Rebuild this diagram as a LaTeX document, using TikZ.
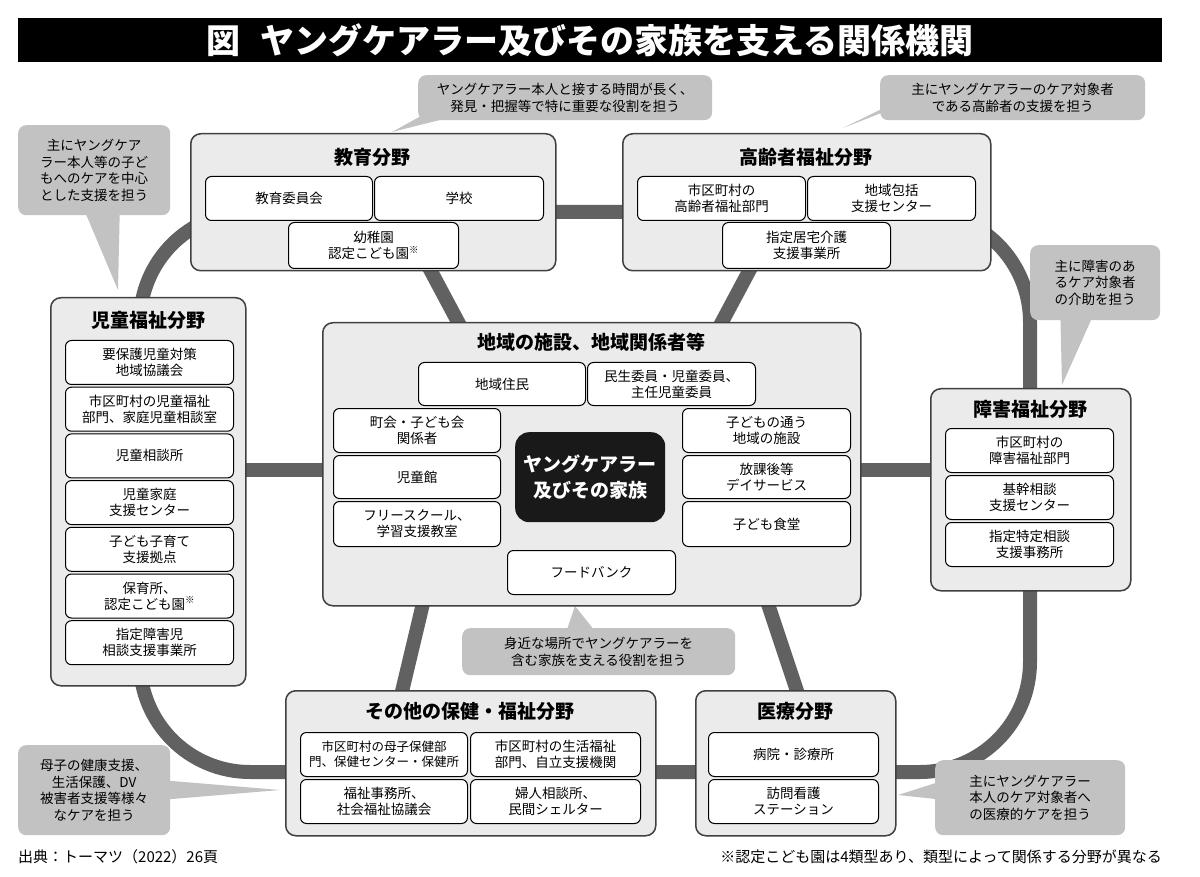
\documentclass[tikz,border=0pt]{standalone}
\usepackage{fontspec}
\setmainfont{Noto Sans CJK JP}
\begin{document}
\begin{tikzpicture}[x=1pt,y=-1pt,
  grp/.style={draw=black!75,line width=1.5pt,fill=black!8,rounded corners=10pt},
  itm/.style={draw=black,line width=1pt,fill=white,rounded corners=6pt,align=center,font=\fontsize{13.5}{16}\selectfont,inner sep=0pt},
  ttl/.style={font=\fontsize{19}{20}\selectfont\bfseries},
  cal/.style={fill=black!24,rounded corners=8pt,align=center,font=\fontsize{13.5}{16.5}\selectfont,inner sep=0pt},
  ring/.style={draw=black!62,line width=14pt}]
\useasboundingbox (0,0) rectangle (1200,877);
\fill[white] (0,0) rectangle (1200,877);
% title
\node[fill=black,minimum width=1144pt,minimum height=44pt,anchor=north west,text=white,font=\fontsize{34}{34}\selectfont\bfseries,inner sep=0pt] (title) at (18,18) {図\hspace{0.6em}ヤングケアラー及びその家族を支える関係機関};
% ring
\draw[ring,rounded corners=110pt] (140,212) rectangle (1030,772);
\coordinate (c1) at (230,470); \coordinate (c2) at (330,470);
\coordinate (c3) at (850,470); \coordinate (c4) at (940,470);
\coordinate (c5) at (425,260); \coordinate (c6) at (465,335);
\coordinate (c7) at (755,260); \coordinate (c8) at (715,335);
\coordinate (c9) at (425,595); \coordinate (c10) at (400,700);
\coordinate (c11) at (765,595); \coordinate (c12) at (800,700);
\draw[ring] (c1)--(c2); \draw[ring] (c3)--(c4);
\draw[ring] (c5)--(c6); \draw[ring] (c7)--(c8);
\draw[ring] (c9)--(c10); \draw[ring] (c11)--(c12);
% callout pointers
\fill[black!24] (560,90) -- (450,100) -- (392,132) -- cycle;
\fill[black!24] (940,90) -- (900,100) -- (843,128) -- cycle;
\fill[black!24] (80,200) -- (120,200) -- (118,290) -- cycle;
\fill[black!24] (1060,300) -- (1100,300) -- (1062,385) -- cycle;
\fill[black!24] (560,650) -- (610,650) -- (575,606) -- cycle;
\fill[black!24] (160,780) -- (160,800) -- (280,790) -- cycle;
\fill[black!24] (945,780) -- (945,800) -- (898,795) -- cycle;
% callouts
\node[cal,minimum width=294pt,minimum height=45pt,anchor=north west] (k1) at (418,75) {ヤングケアラー本人と接する時間が長く、\\発見・把握等で特に重要な役割を担う};
\node[cal,minimum width=265pt,minimum height=45pt,anchor=north west] (k2) at (880,75) {主にヤングケアラーのケア対象者\\である高齢者の支援を担う};
\node[cal,minimum width=152pt,minimum height=90pt,anchor=north west] (k3) at (18,125) {主にヤングケア\\ラー本人等の子ど\\もへのケアを中心\\とした支援を担う};
\node[cal,minimum width=130pt,minimum height=75pt,anchor=north west] (k4) at (1030,245) {主に障害のあ\\るケア対象者\\の介助を担う};
\node[cal,minimum width=273pt,minimum height=47pt,anchor=north west] (k5) at (462,628) {身近な場所でヤングケアラーを\\含む家族を支える役割を担う};
\node[cal,minimum width=152pt,minimum height=90pt,anchor=north west] (k6) at (18,745) {母子の健康支援、\\生活保護、DV\\被害者支援等様々\\なケアを担う};
\node[cal,minimum width=190pt,minimum height=75pt,anchor=north west] (k7) at (935,760) {主にヤングケアラー\\本人のケア対象者へ\\の医療的ケアを担う};
% groups
\node[grp,minimum width=365pt,minimum height=137pt,anchor=north west] (g1) at (190,133) {};
\node[ttl] at (372,157) {教育分野};
\node[itm,minimum width=167pt,minimum height=44pt,anchor=north west] at (205,176) {教育委員会};
\node[itm,minimum width=169pt,minimum height=44pt,anchor=north west] at (374,176) {学校};
\node[itm,minimum width=170pt,minimum height=46pt,anchor=north west] at (288,222) {幼稚園\\認定こども園\textsuperscript{※}};

\node[grp,minimum width=368pt,minimum height=137pt,anchor=north west] (g2) at (622,133) {};
\node[ttl] at (806,157) {高齢者福祉分野};
\node[itm,minimum width=168pt,minimum height=44pt,anchor=north west] at (637,176) {市区町村の\\高齢者福祉部門};
\node[itm,minimum width=168pt,minimum height=44pt,anchor=north west] at (807,176) {地域包括\\支援センター};
\node[itm,minimum width=168pt,minimum height=46pt,anchor=north west] at (722,222) {指定居宅介護\\支援事業所};

\node[grp,minimum width=195pt,minimum height=388pt,anchor=north west] (g3) at (50,297) {};
\node[ttl] at (148,320) {児童福祉分野};
\foreach \t [count=\i from 0] in {{要保護児童対策\\地域協議会},{市区町村の児童福祉\\部門、家庭児童相談室},{児童相談所},{児童家庭\\支援センター},{子ども子育て\\支援拠点},{保育所、\\認定こども園\textsuperscript{※}},{指定障害児\\相談支援事業所}}
  \node[itm,minimum width=168pt,minimum height=44pt,anchor=north west] at (65,340+46.7*\i) {\t};

\node[grp,minimum width=538pt,minimum height=283pt,anchor=north west] (g4) at (322,322) {};
\node[ttl] at (591,342) {地域の施設、地域関係者等};
\node[itm,minimum width=167pt,minimum height=43pt,anchor=north west] at (418,362) {地域住民};
\node[itm,minimum width=168pt,minimum height=43pt,anchor=north west] at (587,362) {民生委員・児童委員、\\主任児童委員};
\node[itm,minimum width=167pt,minimum height=44pt,anchor=north west] at (333,408) {町会・子ども会\\関係者};
\node[itm,minimum width=167pt,minimum height=43pt,anchor=north west] at (333,455) {児童館};
\node[itm,minimum width=167pt,minimum height=45pt,anchor=north west] at (333,501) {フリースクール、\\学習支援教室};
\node[itm,minimum width=168pt,minimum height=44pt,anchor=north west] at (682,408) {子どもの通う\\地域の施設};
\node[itm,minimum width=168pt,minimum height=43pt,anchor=north west] at (682,455) {放課後等\\デイサービス};
\node[itm,minimum width=168pt,minimum height=45pt,anchor=north west] at (682,501) {子ども食堂};
\node[fill=black!90,rounded corners=14pt,text=white,font=\fontsize{19}{26}\selectfont\bfseries,align=center,minimum width=150pt,minimum height=90pt,anchor=north west,inner sep=0pt] (yc) at (515,432) {ヤングケアラー\\及びその家族};
\node[itm,minimum width=168pt,minimum height=44pt,anchor=north west] at (507,550) {フードバンク};

\node[grp,minimum width=200pt,minimum height=202pt,anchor=north west] (g5) at (930,388) {};
\node[ttl] at (1030,409) {障害福祉分野};
\node[itm,minimum width=168pt,minimum height=44pt,anchor=north west] at (945,428) {市区町村の\\障害福祉部門};
\node[itm,minimum width=168pt,minimum height=44pt,anchor=north west] at (945,475) {基幹相談\\支援センター};
\node[itm,minimum width=168pt,minimum height=44pt,anchor=north west] at (945,522) {指定特定相談\\支援事務所};

\node[grp,minimum width=370pt,minimum height=145pt,anchor=north west] (g6) at (285,690) {};
\node[ttl] at (470,711) {その他の保健・福祉分野};
\node[itm,minimum width=167pt,minimum height=44pt,anchor=north west,font=\fontsize{12.5}{15}\selectfont] at (300,732) {市区町村の母子保健部\\門、保健センター・保健所};
\node[itm,minimum width=170pt,minimum height=44pt,anchor=north west] at (470,732) {市区町村の生活福祉\\部門、自立支援機関};
\node[itm,minimum width=167pt,minimum height=44pt,anchor=north west] at (300,779) {福祉事務所、\\社会福祉協議会};
\node[itm,minimum width=170pt,minimum height=44pt,anchor=north west] at (470,779) {婦人相談所、\\民間シェルター};

\node[grp,minimum width=200pt,minimum height=145pt,anchor=north west] (g7) at (695,690) {};
\node[ttl] at (795,711) {医療分野};
\node[itm,minimum width=170pt,minimum height=44pt,anchor=north west] at (708,732) {病院・診療所};
\node[itm,minimum width=170pt,minimum height=44pt,anchor=north west] at (708,779) {訪問看護\\ステーション};
% footer
\node[anchor=west,font=\fontsize{15}{16}\selectfont,inner sep=0pt] (f1) at (18,857) {出典：トーマツ（2022）26頁};
\node[anchor=east,font=\fontsize{15}{16}\selectfont,inner sep=0pt] (f2) at (1162,857) {※認定こども園は4類型あり、類型によって関係する分野が異なる};
\end{tikzpicture}
\end{document}
